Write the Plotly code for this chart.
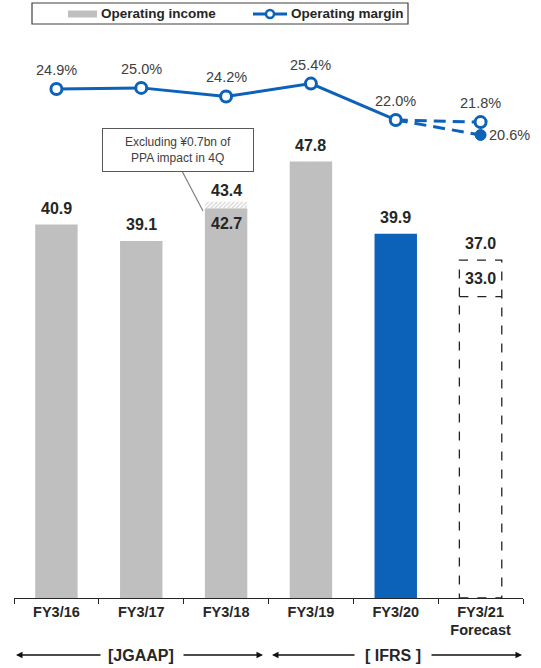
import plotly.graph_objects as go

# ---- data -------------------------------------------------------------
years = ["FY3/16", "FY3/17", "FY3/18", "FY3/19", "FY3/20", "FY3/21"]
tick_text = ["FY3/16", "FY3/17", "FY3/18", "FY3/19", "FY3/20", "FY3/21<br>Forecast"]

income_jgaap_years = ["FY3/16", "FY3/17", "FY3/18", "FY3/19"]
income_jgaap = [40.9, 39.1, 42.7, 47.8]
income_fy20 = 39.9
ppa_base = 42.7
ppa_total = 43.4
forecast_income_high = 37.0
forecast_income_low = 33.0

margin_years = ["FY3/16", "FY3/17", "FY3/18", "FY3/19", "FY3/20"]
margin = [24.9, 25.0, 24.2, 25.4, 22.0]
forecast_margin_high = 21.8
forecast_margin_low = 20.6

# ---- style ------------------------------------------------------------
W, H = 541, 668
L, R, T, B = 14, 18, 40, 70
PW, PH = W - L - R, H - T - B
GRAY = "#BFBFBF"
BLUE = "#0B62B8"
TXT = "#404040"
DARK = "#262626"
FONT = "Liberation Sans, Arial, sans-serif"


def px(x):
    return (x - L) / PW


def py(y):
    return (H - B - y) / PH


fig = go.Figure()

# operating income bars
fig.add_bar(x=income_jgaap_years, y=income_jgaap, width=0.5,
            marker=dict(color=GRAY, line=dict(width=0)), showlegend=False)
fig.add_bar(x=["FY3/20"], y=[income_fy20], width=0.5,
            marker=dict(color=BLUE, line=dict(width=0)), showlegend=False)
# PPA impact segment (hatched)
fig.add_bar(x=["FY3/18"], y=[round(ppa_total - ppa_base, 2)], base=[ppa_base],
            width=0.5, showlegend=False,
            marker=dict(color="white", line=dict(width=0),
                        pattern=dict(shape="/", fgcolor="#B0B0B0",
                                     bgcolor="white", size=3, solidity=0.45)))

# forecast bar drawn as dashed outline
fi = years.index("FY3/21")
fig.add_shape(type="rect", xref="x", yref="y", x0=fi - 0.25, x1=fi + 0.25,
              y0=0, y1=forecast_income_high,
              line=dict(color="#222222", width=1.3, dash="dash"),
              fillcolor="rgba(0,0,0,0)")
fig.add_shape(type="line", xref="x", yref="y", x0=fi - 0.25, x1=fi + 0.25,
              y0=forecast_income_low, y1=forecast_income_low,
              line=dict(color="#222222", width=1.3, dash="dash"))

# operating margin line (secondary axis)
fig.add_scatter(x=["FY3/20", "FY3/21"], y=[margin[-1], forecast_margin_high],
                yaxis="y2", mode="lines", showlegend=False,
                line=dict(color=BLUE, width=3, dash="12px,7px"))
fig.add_scatter(x=["FY3/20", "FY3/21"], y=[margin[-1], forecast_margin_low],
                yaxis="y2", mode="lines", showlegend=False,
                line=dict(color=BLUE, width=3, dash="12px,7px"))
fig.add_scatter(x=margin_years, y=margin, yaxis="y2", mode="lines+markers",
                showlegend=False, line=dict(color=BLUE, width=3),
                marker=dict(symbol="circle", size=11, color="white",
                            line=dict(color=BLUE, width=3)))
fig.add_scatter(x=["FY3/21"], y=[forecast_margin_high], yaxis="y2",
                mode="markers", showlegend=False,
                marker=dict(symbol="circle", size=11, color="white",
                            line=dict(color=BLUE, width=3)))
fig.add_scatter(x=["FY3/21"], y=[forecast_margin_low], yaxis="y2",
                mode="markers", showlegend=False,
                marker=dict(symbol="circle", size=11, color=BLUE,
                            line=dict(color=BLUE, width=1)))

ann = []
# bar value labels
bold = dict(family=FONT, size=16, color=DARK)
for x, v in zip(income_jgaap_years, income_jgaap):
    if x == "FY3/18":
        ann.append(dict(x=x, y=v, yref="y", text=f"<b>{v:.1f}</b>",
                        showarrow=False, yanchor="top", yshift=-5, font=bold))
    else:
        ann.append(dict(x=x, y=v, yref="y", text=f"<b>{v:.1f}</b>",
                        showarrow=False, yanchor="bottom", yshift=6, font=bold))
ann.append(dict(x="FY3/18", y=ppa_total, yref="y", text=f"<b>{ppa_total:.1f}</b>",
                showarrow=False, yanchor="bottom", yshift=1, font=bold))
ann.append(dict(x="FY3/20", y=income_fy20, yref="y", text=f"<b>{income_fy20:.1f}</b>",
                showarrow=False, yanchor="bottom", yshift=6, font=bold))
ann.append(dict(x="FY3/21", y=forecast_income_high, yref="y",
                text=f"<b>{forecast_income_high:.1f}</b>",
                showarrow=False, yanchor="bottom", yshift=6, font=bold))
ann.append(dict(x="FY3/21", y=forecast_income_high, yref="y",
                text=f"<b>{forecast_income_low:.1f}</b>",
                showarrow=False, yanchor="top", yshift=-8, font=bold))

# margin labels
reg = dict(family=FONT, size=14.5, color=TXT)
for x, v in zip(margin_years, margin):
    ann.append(dict(x=x, y=v, yref="y2", text=f"{v:.1f}%", showarrow=False,
                    yanchor="bottom", yshift=9, font=reg))
ann.append(dict(x="FY3/21", y=forecast_margin_high, yref="y2",
                text=f"{forecast_margin_high:.1f}%", showarrow=False,
                yanchor="bottom", yshift=9, font=reg))
ann.append(dict(x="FY3/21", y=forecast_margin_low, yref="y2",
                text=f"{forecast_margin_low:.1f}%", showarrow=False,
                xanchor="left", yanchor="middle", xshift=6, font=reg))

# PPA note
ann.append(dict(xref="paper", yref="paper", x=px(178), y=py(150),
                xanchor="center", yanchor="middle",
                text="Excluding ¥0.7bn of<br>PPA impact in 4Q",
                showarrow=False, font=dict(family=FONT, size=12, color=TXT),
                bordercolor="#595959", borderwidth=1, bgcolor="white",
                width=148, height=40, borderpad=1))

# legend
leg = dict(family=FONT, size=13.5, color=DARK)
ann.append(dict(xref="paper", yref="paper", x=px(99), y=py(14),
                xanchor="left", yanchor="middle",
                text="<b>Operating income</b>", showarrow=False, font=leg))
ann.append(dict(xref="paper", yref="paper", x=px(289), y=py(14),
                xanchor="left", yanchor="middle",
                text="<b>Operating margin</b>", showarrow=False, font=leg))

# accounting standard arrows
arrow = dict(xref="paper", yref="paper", text="", showarrow=True,
             arrowhead=2, arrowsize=1, arrowwidth=1.3, arrowcolor="#111111",
             ay=0, ayref="pixel")
yarr = py(655)
for tip, tail in [(16, 102), (263, 182), (272, 356), (522, 430)]:
    a = dict(arrow)
    a.update(x=px(tip), y=yarr, ax=tail - tip)
    ann.append(a)
std = dict(family=FONT, size=16, color=DARK)
ann.append(dict(xref="paper", yref="paper", x=px(141), y=yarr,
                xanchor="center", yanchor="middle",
                text="<b>[JGAAP]</b>", showarrow=False, font=std))
ann.append(dict(xref="paper", yref="paper", x=px(393), y=yarr,
                xanchor="center", yanchor="middle",
                text="<b>[ IFRS ]</b>", showarrow=False, font=std))

shapes = [
    # legend frame and keys
    dict(type="rect", xref="paper", yref="paper", x0=px(32), x1=px(408),
         y0=py(24), y1=py(3), line=dict(color="#404040", width=1.2),
         fillcolor="white", layer="below"),
    dict(type="line", xref="paper", yref="paper", x0=px(68), x1=px(97),
         y0=py(14), y1=py(14), line=dict(color=GRAY, width=7)),
    dict(type="line", xref="paper", yref="paper", x0=px(253), x1=px(287),
         y0=py(14), y1=py(14), line=dict(color=BLUE, width=3)),
    dict(type="circle", xref="paper", yref="paper", xsizemode="pixel",
         ysizemode="pixel", xanchor=px(270), yanchor=py(14),
         x0=-4, x1=4, y0=-4, y1=4, fillcolor="white",
         line=dict(color=BLUE, width=2.5)),
    # note leader
    dict(type="line", xref="paper", yref="paper", x0=px(182), y0=py(171),
         x1=px(203), y1=py(211), line=dict(color="#7F7F7F", width=1.2)),
]
for s in shapes:
    fig.add_shape(**s)

# margin axis: 10.7 px per point, 23.4% sitting ~105 px from the top
M_PX = 10.7
fig.update_layout(
    width=W, height=H, margin=dict(l=L, r=R, t=T, b=B),
    paper_bgcolor="white", plot_bgcolor="white",
    barmode="overlay", bargap=0.5,
    font=dict(family=FONT, color=TXT),
    annotations=ann,
    xaxis=dict(type="category", categoryorder="array", categoryarray=years,
               tickmode="array", tickvals=years, ticktext=[f"<b>{t}</b>" for t in tick_text],
               tickson="boundaries", ticks="outside", ticklen=5,
               tickcolor=DARK, tickwidth=1, automargin=False,
               showline=True, linecolor=DARK, linewidth=1.2,
               showgrid=False, zeroline=False, range=[-0.5, 5.5],
               tickfont=dict(family=FONT, size=14.5, color=DARK)),
    yaxis=dict(range=[0, PH / 9.13], visible=False, showgrid=False),
    yaxis2=dict(range=[23.4 - (PH - 65) / M_PX, 23.4 + 65 / M_PX],
                overlaying="y", visible=False, showgrid=False),
)

fig.write_html("out.html")
